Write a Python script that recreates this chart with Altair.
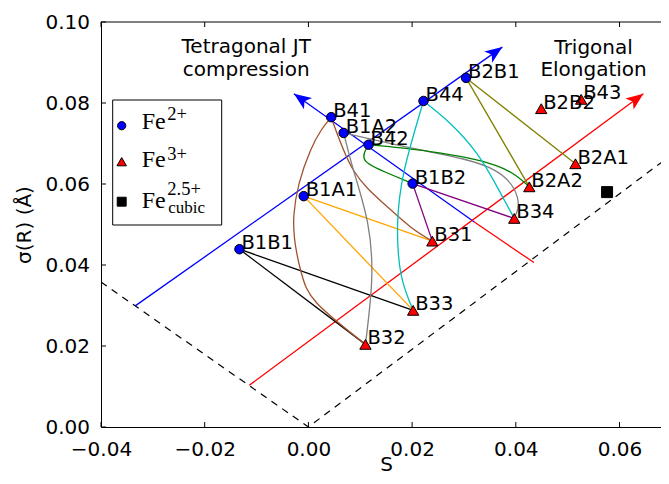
import math
import altair as alt
import pandas as pd

# ---------------- data ----------------
fe2_names = ["B1B1", "B1A1", "B41", "B1A2", "B42", "B1B2", "B44", "B2B1"]
fe2_S = [-0.0133, -0.0009, 0.0044, 0.0068, 0.0116, 0.0201, 0.0222, 0.0304]
fe2_sigma = [0.0439, 0.0570, 0.0765, 0.0726, 0.0697, 0.0601, 0.0805, 0.0862]

fe3_names = ["B32", "B33", "B31", "B34", "B2A2", "B2A1", "B2B2", "B43"]
fe3_S = [0.0110, 0.0202, 0.0239, 0.0397, 0.0426, 0.0515, 0.0449, 0.0526]
fe3_sigma = [0.0204, 0.0288, 0.0459, 0.0515, 0.0593, 0.0650, 0.0786, 0.0809]

cubic_S = [0.0576]
cubic_sigma = [0.0580]

# connections Fe2+ -> Fe3+ (with points read along curved paths)
conn_from = ["B1B1", "B1B1", "B1A1", "B1A1", "B41", "B41", "B1A2", "B1A2",
             "B42", "B42", "B1B2", "B1B2", "B44", "B44", "B2B1", "B2B1"]
conn_to = ["B32", "B33", "B31", "B33", "B32", "B31", "B32", "B34",
           "B2A2", "B1B2", "B31", "B34", "B33", "B34", "B2A2", "B2A1"]
conn_color = ["black", "black", "orange", "orange", "sienna", "sienna", "gray", "gray",
              "green", "green", "purple", "purple", "#00bfbf", "#00bfbf", "olive", "olive"]
conn_via_S = [[], [], [], [],
              [0.0004, -0.0028, -0.0015, 0.0017], [0.0087, 0.0145, 0.0197],
              [0.0087, 0.0114, 0.0122], [0.0216, 0.0351, 0.0403],
              [0.0235, 0.0361], [0.0109, 0.0149],
              [], [],
              [0.0185, 0.0172, 0.0179], [0.0274, 0.0325, 0.0364],
              [], []]
conn_via_sigma = [[], [], [], [],
                  [0.0683, 0.0523, 0.0387, 0.0305], [0.0634, 0.0552, 0.0494],
                  [0.0634, 0.0505, 0.0362], [0.0684, 0.0639, 0.0567],
                  [0.0680, 0.0646], [0.0659, 0.0629],
                  [], [],
                  [0.0634, 0.0498, 0.0375], [0.0749, 0.0675, 0.0593],
                  [], []]

# guide axes (blue / red) and the dashed boundary
guide_color = ["blue", "blue", "red", "red"]
guide_S0 = [-0.0334, -0.0028, -0.0114, 0.0320]
guide_sig0 = [0.0299, 0.0823, 0.0103, 0.0506]
guide_S1 = [0.0374, 0.0320, 0.0646, 0.0435]
guide_sig1 = [0.0938, 0.0506, 0.0823, 0.0406]

arrow_color = ["blue", "blue", "red"]
arrow_tip_S = [0.0374, -0.0028, 0.0646]
arrow_tip_sigma = [0.0938, 0.0823, 0.0823]
arrow_from_S = [-0.0334, 0.0320, -0.0114]
arrow_from_sigma = [0.0299, 0.0506, 0.0103]

bound_S = [-0.04, 0.0, 0.0697]
bound_sigma = [0.0358, 0.0, 0.0669]

ann_text = ["Tetragonal JT\ncompression", "Trigonal\nElongation"]
ann_S = [-0.0120, 0.0550]
ann_sigma = [0.0923, 0.0922]

x_tick_vals = [-0.04, -0.02, 0.0, 0.02, 0.04, 0.06]
y_tick_vals = [0.0, 0.02, 0.04, 0.06, 0.08, 0.10]

leg_main = ["Fe", "Fe", "Fe"]
leg_sup = ["2+", "3+", "2.5+"]
leg_sub = ["", "", "cubic"]

# ---------------- layout ----------------
W, H = 560, 405
XMIN, XMAX = -0.04, 0.068   # visible part of the original axis (it runs to 0.07, cut at the image edge)
YMIN, YMAX = 0.0, 0.10
FONT = "DejaVu Sans"
SERIF = "Liberation Serif"

xs = alt.Scale(domain=[XMIN, XMAX], nice=False, zero=False)
ys = alt.Scale(domain=[YMIN, YMAX], nice=False, zero=False)

xaxis = alt.Axis(title="S", values=x_tick_vals, format=".2f", ticks=False, grid=False,
                 labelPadding=28, labelBaseline="alphabetic", labelFlush=False,
                 labelOverlap=False, titleY=43, titleX=285, titleBaseline="alphabetic")
yaxis = alt.Axis(title="σ(R) (Å)", values=y_tick_vals, format=".2f", ticks=False, grid=False,
                 labelPadding=11.5, labelFlush=False, labelOverlap=False,
                 titleX=-71, titleY=H / 2, titleAngle=270, titleAlign="center",
                 titleBaseline="alphabetic")


def X(f):
    return alt.X(f, type="quantitative", scale=xs, axis=xaxis)


def Y(f):
    return alt.Y(f, type="quantitative", scale=ys, axis=yaxis)


# ---------------- tables ----------------
pos = {}
for n, s, g in zip(fe2_names, fe2_S, fe2_sigma):
    pos[n] = (s, g)
for n, s, g in zip(fe3_names, fe3_S, fe3_sigma):
    pos[n] = (s, g)

rows = []
for k, (a, b, c, vs, vg) in enumerate(zip(conn_from, conn_to, conn_color, conn_via_S, conn_via_sigma)):
    pts = [pos[a]] + list(zip(vs, vg)) + [pos[b]]
    for i, (s, g) in enumerate(pts):
        rows.append({"cid": k, "col": c, "i": i, "S": s, "sigma": g})
conn_df = pd.DataFrame(rows)

grows = []
for k, (c, s0, g0, s1, g1) in enumerate(zip(guide_color, guide_S0, guide_sig0, guide_S1, guide_sig1)):
    grows.append({"g": k, "col": c, "i": 0, "S": s0, "sigma": g0})
    grows.append({"g": k, "col": c, "i": 1, "S": s1, "sigma": g1})
guide_df = pd.DataFrame(grows)

kx = W / (XMAX - XMIN)
ky = H / (YMAX - YMIN)
arrow_df = pd.DataFrame({
    "S": arrow_tip_S, "sigma": arrow_tip_sigma, "col": arrow_color,
    "ang": [math.degrees(math.atan2((ts - fs) * kx, (tg - fg) * ky)) % 360
            for ts, tg, fs, fg in zip(arrow_tip_S, arrow_tip_sigma, arrow_from_S, arrow_from_sigma)],
})

bound_df = pd.DataFrame({"S": bound_S, "sigma": bound_sigma, "i": range(len(bound_S))})
fe2_df = pd.DataFrame({"name": fe2_names, "S": fe2_S, "sigma": fe2_sigma})
fe3_df = pd.DataFrame({"name": fe3_names, "S": fe3_S, "sigma": fe3_sigma})
cubic_df = pd.DataFrame({"S": cubic_S, "sigma": cubic_sigma})
label_df = pd.concat([fe2_df, fe3_df], ignore_index=True)
ann_df = pd.DataFrame({"t": ann_text, "S": ann_S, "sigma": ann_sigma})

# ---------------- layers ----------------
bound = alt.Chart(bound_df).mark_line(color="black", strokeDash=[7, 6], strokeWidth=1.2, clip=True).encode(
    x=X("S"), y=Y("sigma"), order="i:Q")

guides = alt.Chart(guide_df).mark_line(strokeWidth=1.3, clip=True).encode(
    x=X("S"), y=Y("sigma"), detail="g:N", color=alt.Color("col:N", scale=None), order="i:Q")

arrow_path = "M0,0 L0.8,2 L0,1.5 L-0.8,2 Z"
arrows = alt.Chart(arrow_df).mark_point(shape=arrow_path, size=300, filled=True, opacity=1,
                                        strokeWidth=0).encode(
    x=X("S"), y=Y("sigma"), color=alt.Color("col:N", scale=None), angle=alt.Angle("ang:Q", scale=None))

conns = alt.Chart(conn_df).mark_line(strokeWidth=1.3, interpolate="natural", clip=True).encode(
    x=X("S"), y=Y("sigma"), detail="cid:N", color=alt.Color("col:N", scale=None), order="i:Q")

fe2_pts = alt.Chart(fe2_df).mark_point(shape="circle", size=90, filled=True, fill="#0000ff",
                                       stroke="black", strokeWidth=1, opacity=1).encode(
    x=X("S"), y=Y("sigma"))
fe3_pts = alt.Chart(fe3_df).mark_point(shape="triangle-up", size=128, filled=True, fill="#ff0000",
                                       stroke="black", strokeWidth=1, opacity=1).encode(
    x=X("S"), y=Y("sigma"))
cubic_pts = alt.Chart(cubic_df).mark_point(shape="square", size=121, filled=True, fill="black",
                                           stroke="black", strokeWidth=1, opacity=1).encode(
    x=X("S"), y=Y("sigma"))

labels = alt.Chart(label_df).mark_text(align="left", baseline="alphabetic", dx=2, dy=0,
                                       font=FONT, fontSize=19.5, color="black").encode(
    x=X("S"), y=Y("sigma"), text="name:N")

anns = alt.Chart(ann_df).mark_text(align="center", baseline="alphabetic", lineBreak="\n",
                                   lineHeight=22.5, font=FONT, fontSize=20, color="black").encode(
    x=X("S"), y=Y("sigma"), text="t:N")

xt = pd.DataFrame({"v": x_tick_vals})
yt = pd.DataFrame({"v": y_tick_vals})
tick_b = alt.Chart(xt).mark_rule(color="black", strokeWidth=1).encode(
    x=X("v"), y=alt.value(H), y2=alt.value(H - 5))
tick_t = alt.Chart(xt).mark_rule(color="black", strokeWidth=1).encode(
    x=X("v"), y=alt.value(0), y2=alt.value(5))
tick_l = alt.Chart(yt).mark_rule(color="black", strokeWidth=1).encode(
    y=Y("v"), x=alt.value(0), x2=alt.value(5))
top_frame = alt.Chart(pd.DataFrame({"k": [0]})).mark_rule(color="black", strokeWidth=1).encode(
    x=alt.value(0), x2=alt.value(W), y=alt.value(0))

# ---------------- legend (hand built: mathtext style labels) ----------------
leg_layers = []
leg_layers.append(
    alt.Chart(pd.DataFrame({"k": [0]})).mark_rect(fill="white", stroke="black", strokeWidth=1).encode(
        x=alt.value(11.7), x2=alt.value(120.7), y=alt.value(78), y2=alt.value(203)))
marker_specs = [("circle", "#0000ff", 68), ("triangle-up", "#ff0000", 90), ("square", "black", 80)]
marker_y = [103.7, 139.7, 179.7]
main_y = [107.3, 145.0, 185.7]
sup_y = [97.6, 137.6, 173.0]
for k in range(3):
    shp, fc, sz = marker_specs[k]
    leg_layers.append(
        alt.Chart(pd.DataFrame({"k": [k]})).mark_point(shape=shp, size=sz, filled=True, fill=fc,
                                                        stroke="black", strokeWidth=1, opacity=1).encode(
            x=alt.value(20.7), y=alt.value(marker_y[k])))
    leg_layers.append(
        alt.Chart(pd.DataFrame({"t": [leg_main[k]]})).mark_text(
            align="left", baseline="alphabetic", font=SERIF, fontSize=24, color="black").encode(
            x=alt.value(40.7), y=alt.value(main_y[k]), text="t:N"))
    leg_layers.append(
        alt.Chart(pd.DataFrame({"t": [leg_sup[k]]})).mark_text(
            align="left", baseline="alphabetic", font=SERIF, fontSize=18.5, color="black").encode(
            x=alt.value(66.3), y=alt.value(sup_y[k]), text="t:N"))
    if leg_sub[k]:
        leg_layers.append(
            alt.Chart(pd.DataFrame({"t": [leg_sub[k]]})).mark_text(
                align="left", baseline="alphabetic", font=SERIF, fontSize=17, color="black").encode(
                x=alt.value(67.3), y=alt.value(191.3), text="t:N"))

chart = alt.layer(
    bound, guides, conns, arrows, fe2_pts, fe3_pts, cubic_pts, labels, anns,
    tick_b, tick_t, tick_l, top_frame, *leg_layers
).properties(
    width=W, height=H,
    autosize=alt.AutoSizeParams(type="none"),
    padding={"left": 93, "top": 14, "right": 0, "bottom": 48},
).configure_view(
    strokeWidth=0
).configure_axis(
    labelFont=FONT, labelFontSize=20, labelColor="black",
    titleFont=FONT, titleFontSize=20, titleFontWeight="normal", titleColor="black",
    domainColor="black", domainWidth=1,
)

chart.save("out.html", embed_options={"renderer": "svg", "actions": False})
